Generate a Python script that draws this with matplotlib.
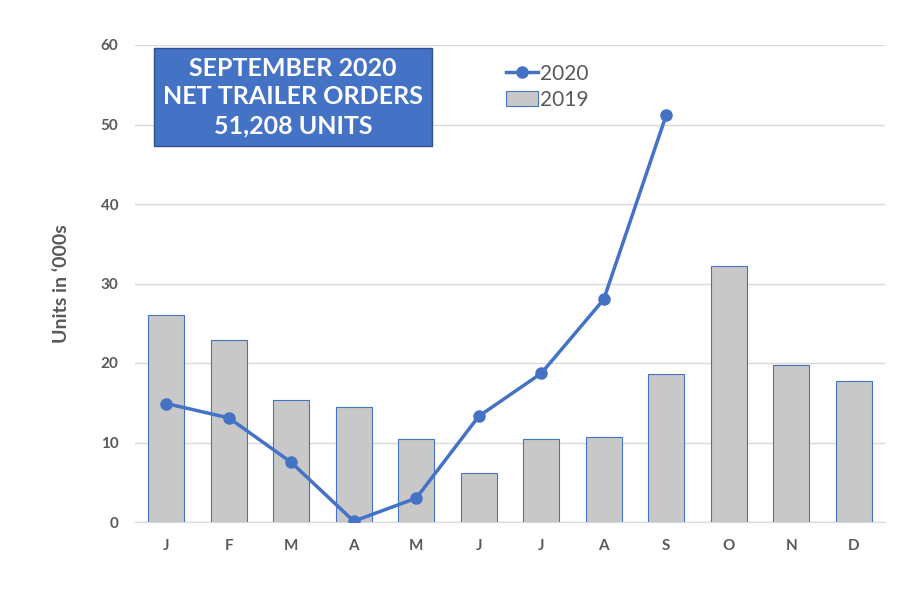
import matplotlib
matplotlib.use("Agg")
import matplotlib.pyplot as plt
import numpy as np

months = ["J","F","M","A","M","J","J","A","S","O","N","D"]
orders_2019 = [26.0, 22.9, 15.4, 14.5, 10.4, 6.2, 10.4, 10.7, 18.6, 32.2, 19.8, 17.7]
orders_2020 = [14.9, 13.1, 7.5, 0.1, 3.0, 13.3, 18.7, 28.0, 51.2]

plt.rcParams['font.family'] = ['Lato', 'DejaVu Sans']
fig = plt.figure(figsize=(9.2, 6.13), dpi=100)
ax = fig.add_axes([135/920, 1-522/613, 750/920, 477/613])
x = np.arange(len(months))
blue = "#4472C4"
ax.bar(x, orders_2019, width=0.58, color="#C8C8C8", edgecolor=blue, linewidth=0.8, label="2019", zorder=2)
ax.plot(np.arange(len(orders_2020)), orders_2020, color=blue, lw=2.5, marker="o", ms=8, label="2020", zorder=3)
ax.set_xlim(-0.5, 11.5)
ax.set_ylim(0, 60)
ax.set_yticks(range(0, 61, 10))
ax.set_xticks(x)
ax.set_xticklabels(months)
ax.grid(axis="y", color="#D9D9D9", lw=1, zorder=0)
for s in ["top", "right", "left"]:
    ax.spines[s].set_visible(False)
ax.spines["bottom"].set_color("#D9D9D9")
ax.tick_params(length=0, colors="#595959", labelsize=11, pad=12)
for t in ax.get_xticklabels() + ax.get_yticklabels():
    t.set_fontweight("bold")
ax.set_ylabel("Units in \u2018000s", fontsize=14, fontweight="bold", color="#595959", labelpad=22)
leg = ax.legend(loc="upper left", bbox_to_anchor=(0.47, 1.0), frameon=False, fontsize=15,
                handlelength=1.5, labelspacing=0.3, handletextpad=0.1)
for t in leg.get_texts():
    t.set_color("#595959")
fig.text(293/920, 1-97/613, "SEPTEMBER 2020\nNET TRAILER ORDERS\n51,208 UNITS", ha="center", va="center",
         fontsize=18, fontweight="bold", color="white", linespacing=1.3,
         bbox=dict(boxstyle="square,pad=0.35", fc=blue, ec="#2F528F", lw=1))
fig.savefig("out.png", dpi=100, facecolor="white")
